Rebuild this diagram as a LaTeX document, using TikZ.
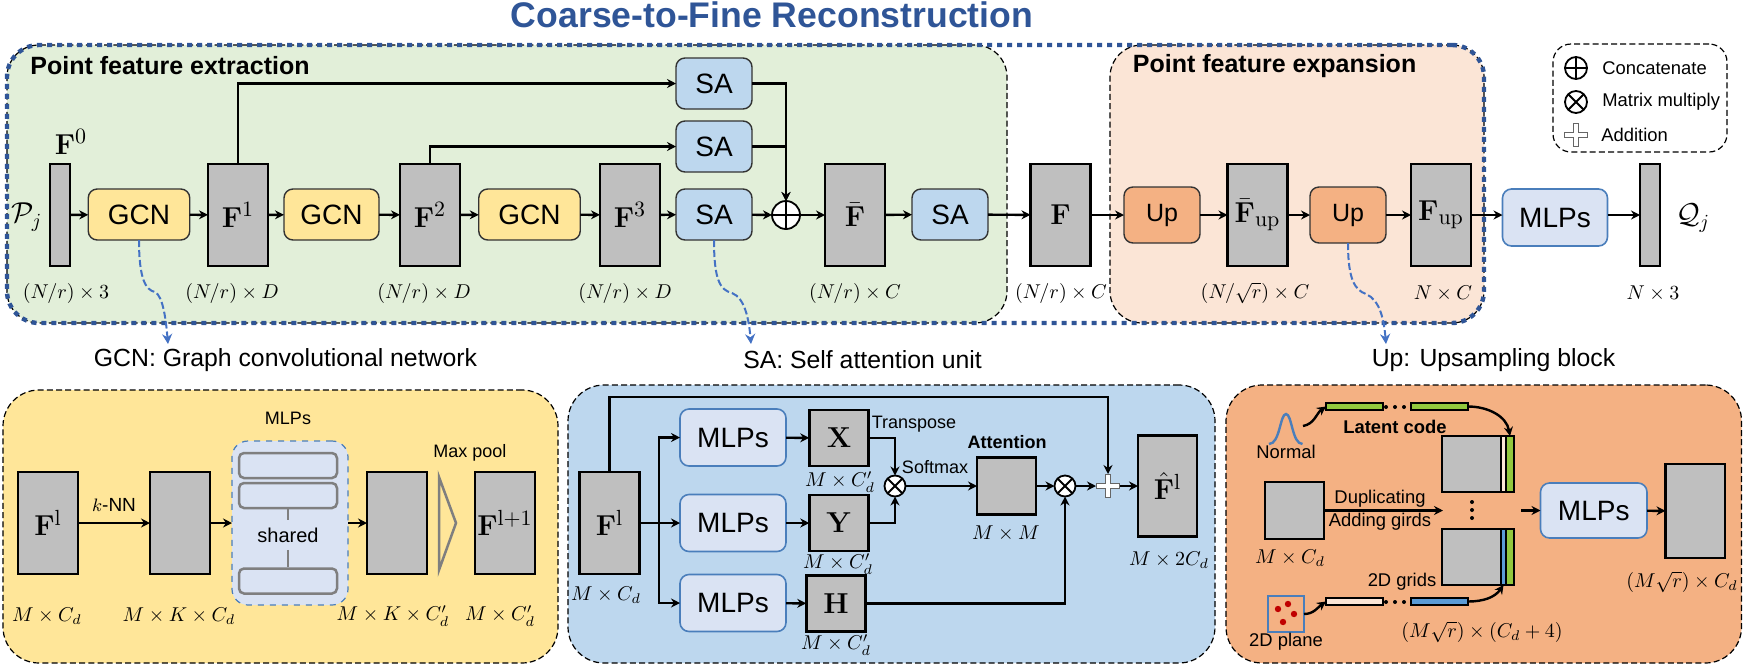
\documentclass[tikz,border=0pt]{standalone}
\usepackage[no-math]{fontspec}
\setmainfont{Liberation Sans}
\usetikzlibrary{backgrounds, arrows.meta}

\definecolor{boxgray}{HTML}{BFBFBF}
\definecolor{gcnyellow}{HTML}{FFE699}
\definecolor{sablue}{HTML}{BDD7EE}
\definecolor{upamber}{HTML}{F4B183}
\definecolor{mlpblue}{HTML}{DAE3F3}
\definecolor{edgeblue}{HTML}{4A7EBB}
\definecolor{navy}{HTML}{2F5597}
\definecolor{linkblue}{HTML}{4472C4}
\definecolor{greenpane}{HTML}{E2EFD9}
\definecolor{peachpane}{HTML}{FBE5D6}
\definecolor{codegreen}{HTML}{92C83E}
\definecolor{gridblue}{HTML}{5B9BD5}
\definecolor{planered}{HTML}{C00000}
\definecolor{mlpgray}{HTML}{7F7F7F}

\newcommand{\fsz}[1]{\fontsize{#1}{#1}\selectfont}

\begin{document}
\begin{tikzpicture}[x=0.5pt, y=-0.5pt, >={Stealth[length=4.5pt, width=4.5pt]},
  feat/.style={draw, line width=1.4pt, fill=boxgray, inner sep=0pt, outer sep=0pt, font=\fsz{15.5}},
  tall/.style={feat, minimum width=30pt, minimum height=51pt},
  thin/.style={draw, line width=0.8pt, fill=boxgray, minimum width=10pt, minimum height=51pt, inner sep=0pt, outer sep=0pt},
  block/.style={draw=black!80, line width=0.7pt, rounded corners=4.5pt, inner sep=0pt, outer sep=0pt, font=\fsz{14}},
  gcnblock/.style={block, fill=gcnyellow, minimum height=25.5pt},
  sablock/.style={block, fill=sablue, minimum width=38pt, minimum height=25.5pt},
  upblock/.style={block, fill=upamber, minimum width=38pt, minimum height=28pt, font=\fsz{12.5}},
  mlpblock/.style={block, draw=edgeblue, line width=0.8pt, fill=mlpblue},
  pane/.style={draw, line width=0.6pt, dash pattern=on 3pt off 1.6pt, rounded corners=16pt, inner sep=0pt},
  panel/.style={pane, minimum height=139pt},
  head/.style={font=\bfseries\fsz{12.5}, anchor=west, inner sep=0pt},
  caption/.style={font=\fsz{12.4}, inner sep=0pt},
  dims/.style={font=\fsz{9.6}, inner sep=0pt},
  pdims/.style={font=\fsz{10}, inner sep=0pt},
  small/.style={font=\fsz{9.2}, inner sep=0pt},
  link/.style={->, >={Stealth[length=5pt, width=5pt]}, draw=linkblue, line width=1pt, dash pattern=on 3.5pt off 1.5pt},
  flow/.style={->, line width=1.2pt},
  opcircle/.style={circle, draw, line width=0.9pt, fill=white, inner sep=0pt, outer sep=0pt},
  concat/.style={opcircle, path picture={\draw[line width=0.9pt] (path picture bounding box.north) -- (path picture bounding box.south) (path picture bounding box.west) -- (path picture bounding box.east);}},
  matmul/.style={opcircle, path picture={\draw[line width=0.9pt] (path picture bounding box.north west) -- (path picture bounding box.south east) (path picture bounding box.south west) -- (path picture bounding box.north east);}},
  addition/.style={inner sep=0pt, outer sep=0pt, minimum size=12pt, path picture={
    \draw[black!60, line width=3pt] (path picture bounding box.north) -- (path picture bounding box.south) (path picture bounding box.west) -- (path picture bounding box.east);
    \draw[white, line width=2.2pt, shorten >=0.5pt, shorten <=0.5pt] (path picture bounding box.north) -- (path picture bounding box.south);
    \draw[white, line width=2.2pt, shorten >=0.5pt, shorten <=0.5pt] (path picture bounding box.west) -- (path picture bounding box.east);}},
  mlpbar/.style={draw=mlpgray, line width=1.25pt, fill=mlpblue, rounded corners=2.5pt, minimum width=49pt, minimum height=12.5pt, inner sep=0pt},
  codebar/.style={draw, line width=0.9pt, minimum height=3.5pt, minimum width=28.5pt, inner sep=0pt, outer sep=0pt},
  strip/.style={draw, line width=0.9pt, minimum height=28pt, inner sep=0pt, outer sep=0pt}]
  \useasboundingbox (0,0) rectangle (1747,671);

  \node[font=\bfseries\fsz{17.8}, text=navy, inner sep=0pt] (title) at (772,15) {Coarse-to-Fine Reconstruction};

  % Main row
  \node[font=\fsz{14}, inner sep=0pt] (pset) at (27,217) {$\mathcal{P}_j$};
  \node[thin] (fzero) at (60,215) {};
  \node[font=\fsz{15.5}, inner sep=0pt] (fzerolab) at (71,142) {$\mathbf{F}^0$};
  \node[gcnblock, minimum width=50.75pt] (gcna) at (139,214.5) {GCN};
  \node[tall] (fone) at (238,215) {$\mathbf{F}^1$};
  \node[gcnblock, minimum width=47.5pt] (gcnb) at (331.5,214.5) {GCN};
  \node[tall] (ftwo) at (430,215) {$\mathbf{F}^2$};
  \node[gcnblock, minimum width=50.75pt] (gcnc) at (529.5,214.5) {GCN};
  \node[tall] (fthree) at (630,215) {$\mathbf{F}^3$};
  \node[sablock] (saa) at (714,83.5) {SA};
  \node[sablock] (sab) at (714,146.5) {SA};
  \node[sablock] (sac) at (714,214.5) {SA};
  \node[concat, minimum size=14pt] (conc) at (786,215) {};
  \node[tall] (fbar) at (855,215) {$\bar{\mathbf{F}}$};
  \node[sablock] (sad) at (950,214.5) {SA};
  \node[tall] (fmain) at (1060.5,215) {$\mathbf{F}$};
  \node[upblock] (upa) at (1162,215) {Up};
  \node[tall] (fbarup) at (1257.5,215) {$\bar{\mathbf{F}}_{\mathrm{up}}$};
  \node[upblock] (upb) at (1348,215) {Up};
  \node[tall] (fup) at (1441,215) {$\mathbf{F}_{\mathrm{up}}$};
  \node[mlpblock, minimum width=52.5pt, minimum height=28.5pt] (mlpmain) at (1555,217.5) {MLPs};
  \node[thin] (fout) at (1650,215) {};
  \node[font=\fsz{14.5}, inner sep=0pt] (qset) at (1693,218) {$\mathcal{Q}_j$};

  \foreach \a/\b in {fzero/gcna, gcna/fone, fone/gcnb, gcnb/ftwo, ftwo/gcnc, gcnc/fthree, fthree/sac, sac/conc, conc/fbar, fbar/sad, sad/fmain, fmain/upa, upa/fbarup, fbarup/upb, upb/fup}
    \draw[flow] (\a) -- (\b);
  \draw[flow] (fup) -- (fup -| mlpmain.west);
  \draw[flow] (fout -| mlpmain.east) -- (fout);
  \draw[flow] (fone.north) |- (saa.west);
  \draw[flow] (ftwo.north) |- (sab.west);
  \draw[flow] (saa.east) -| (conc.north);
  \draw[flow] (sab.east) -| (conc.north);

  \node[head] (headext) at (30,66) {Point feature extraction};
  \node[head] (headexp) at (1132.5,66) {Point feature expansion};

  \node[dims] (dzero) at (66,293) {$(N/r)\times 3$};
  \node[dims] (done) at (232,293) {$(N/r)\times D$};
  \node[dims] (dtwo) at (424,293) {$(N/r)\times D$};
  \node[dims] (dthree) at (625,293) {$(N/r)\times D$};
  \node[dims] (dbar) at (855,293) {$(N/r)\times C$};
  \node[dims] (dmain) at (1061,293) {$(N/r)\times C$};
  \node[dims] (dbarup) at (1255,293) {$(N/\sqrt{r})\times C$};
  \node[dims] (dup) at (1443,293) {$N\times C$};
  \node[dims] (dout) at (1653,293) {$N\times 3$};

  % Legend
  \node[pane, rounded corners=9pt, minimum width=87pt, minimum height=54pt] (legend) at (1640,98) {};
  \node[concat, minimum size=11pt] (legconc) at (1576,68) {};
  \node[matmul, minimum size=11pt] (legmul) at (1576,102) {};
  \node[addition] (legadd) at (1576,135) {};
  \node[small, anchor=west] (legconctext) at (1602,68) {Concatenate};
  \node[small, anchor=west] (legmultext) at (1602,102) {Matrix multiply};
  \node[small, anchor=west] (legaddtext) at (1601,135) {Addition};

  % Captions and dashed links
  \node[caption] (capgcn) at (285.5,360) {GCN: Graph convolutional network};
  \node[caption] (capsa) at (862.5,360) {SA: Self attention unit};
  \node[caption] (capup) at (1493.5,360) {Up: Upsampling block};
  \coordinate (gcnend) at (168,344);
  \coordinate (saend) at (751,344);
  \coordinate (upend) at (1386,344);
  \draw[link] (gcna.south) .. controls (139,280) and (146,290) .. (155,292) .. controls (163,296) and (166,320) .. (gcnend);
  \draw[link] (sac.south) .. controls (714,280) and (720,290) .. (732,293) .. controls (745,298) and (749,320) .. (saend);
  \draw[link] (upb.south) .. controls (1348,280) and (1355,290) .. (1366,294) .. controls (1380,300) and (1384,320) .. (upend);

  % GCN panel
  \node[tall] (gfa) at (48,523) {$\mathbf{F}^{\mathrm{l}}$};
  \node[tall] (gfb) at (180,523) {};
  \node[draw=edgeblue, dashed, line width=0.6pt, fill=mlpblue, rounded corners=8pt, minimum width=58pt, minimum height=82pt, inner sep=0pt, outer sep=0pt] (gshare) at (290,523) {};
  \node[mlpbar] (barone) at (288,465.5) {};
  \node[mlpbar] (bartwo) at (288,495.5) {};
  \node[mlpbar] (barthree) at (288,581) {};
  \node[font=\fsz{10}, inner sep=3.5pt] (sharedlab) at (288,535) {shared};
  \draw[mlpgray, line width=1pt] (bartwo) -- (sharedlab);
  \draw[mlpgray, line width=1pt] (sharedlab) -- (barthree);
  \node[font=\fsz{9}, inner sep=0pt] (gmlplab) at (288,418) {MLPs};
  \node[tall] (gfc) at (397,523) {};
  \draw[mlpgray, line width=1.25pt] (439,477) -- (456,523) -- (439,570) -- cycle;
  \node[font=\fsz{9}, inner sep=0pt] (poollab) at (470,453) {Max pool};
  \node[tall] (gfd) at (505,523) {$\mathbf{F}^{\mathrm{l+1}}$};
  \draw[flow] (gfa) -- node[above=5pt, font=\fsz{9.5}, inner sep=0pt] (knnlab) {$k$-NN} (gfb);
  \draw[flow] (gfb) -- (gshare);
  \draw[flow] (gshare) -- (gfc);
  \node[pdims] (gda) at (47,616) {$M\times C_d$};
  \node[pdims] (gdb) at (179,616) {$M\times K\times C_d$};
  \node[pdims] (gdc) at (393,616) {$M\times K\times C_d'$};
  \node[pdims] (gdd) at (500,616) {$M\times C_d'$};

  % SA panel
  \node[tall] (sfl) at (609.5,523) {$\mathbf{F}^{\mathrm{l}}$};
  \coordinate (sfork) at (659,523);
  \foreach \nm/\yy in {sma/437.5, smb/523, smc/603}
    \node[mlpblock, minimum width=53pt, minimum height=28.5pt] (\nm) at (733,\yy) {MLPs};
  \node[feat, minimum width=29.75pt, minimum height=28pt] (sx) at (839,438) {$\mathbf{X}$};
  \node[feat, minimum width=29.75pt, minimum height=28pt] (sy) at (839,523) {$\mathbf{Y}$};
  \node[feat, minimum width=29.75pt, minimum height=28pt] (sh) at (836,603.5) {$\mathbf{H}$};
  \node[matmul, minimum size=10.5pt] (mula) at (895,486) {};
  \node[feat, minimum width=29.5pt, minimum height=28.5pt] (satt) at (1006.5,486) {};
  \node[matmul, minimum size=10.5pt] (mulb) at (1065,486) {};
  \node[addition] (sadd) at (1108,486) {};
  \node[tall, minimum width=29.5pt, minimum height=50.5pt] (sfhat) at (1167.5,486) {$\hat{\mathbf{F}}^{\mathrm{l}}$};
  \draw[flow] (sfl.north) -- ++(0,-75) -| (sadd.north);
  \draw[flow] (sfl) -- (smb);
  \draw[flow] (sfork) |- (sma);
  \draw[flow] (sfork) |- (smc);
  \foreach \a/\b in {sma/sx, smb/sy, smc/sh, mula/satt, satt/mulb, mulb/sadd, sadd/sfhat}
    \draw[flow] (\a) -- (\b);
  \draw[flow] (sx.east) -| (mula.north);
  \draw[flow] (sy.east) -| (mula.south);
  \draw[flow] (sh.east) -| (mulb.south);
  \node[font=\fsz{9}, inner sep=0pt] (translab) at (914,424) {Transpose};
  \node[font=\fsz{9}, inner sep=0pt] (softlab) at (935,467) {Softmax};
  \node[font=\bfseries\fsz{9}, inner sep=0pt] (attlab) at (1007,442) {Attention};
  \node[pdims] (sda) at (606,595) {$M\times C_d$};
  \node[pdims] (sdb) at (840,482) {$M\times C_d'$};
  \node[pdims] (sdc) at (838,564) {$M\times C_d'$};
  \node[pdims] (sdd) at (836,645) {$M\times C_d'$};
  \node[pdims] (sde) at (1006,533) {$M\times M$};
  \node[pdims] (sdf) at (1169,560) {$M\times 2C_d$};

  % Up panel
  \draw[edgeblue, line width=1.2pt] (1269,444) .. controls (1280,444) and (1280,414) .. (1286,414) .. controls (1292,414) and (1292,444) .. (1302.5,444);
  \coordinate (normaltip) at (1303,426);
  \node[small] (normallab) at (1286,452) {Normal};
  \node[codebar, fill=codegreen] (lata) at (1354.5,406.5) {};
  \node[codebar, fill=codegreen] (latb) at (1439.5,406.5) {};
  \node[font=\bfseries\fsz{9.2}, inner sep=0pt] (latlab) at (1395,427) {Latent code};
  \node[strip, fill=boxgray, minimum width=36pt] (upta) at (1478,464) {};
  \node[strip, fill=peachpane, minimum width=2.5pt] (uptb) at (1503.5,464) {};
  \node[strip, fill=codegreen, minimum width=4pt] (uptc) at (1510,464) {};
  \node[strip, fill=boxgray, minimum width=36pt] (upba) at (1478,557) {};
  \node[strip, fill=gridblue, minimum width=2.5pt] (upbb) at (1503.5,557) {};
  \node[strip, fill=codegreen, minimum width=4pt] (upbc) at (1510,557) {};
  \foreach \dx in {1386,1395,1404} {
    \fill (\dx,407) circle (1pt);
    \fill (\dx,602) circle (1pt);
  }
  \foreach \dy in {502,510,518}
    \fill (1472,\dy) circle (1pt);
  \node[feat, minimum width=29.5pt, minimum height=28.5pt] (upin) at (1294.5,510.5) {};
  \coordinate (upmerge) at (1443,510.5);
  \coordinate (upnext) at (1521,510.5);
  \node[mlpblock, minimum width=53.25pt, minimum height=27.5pt] (upmlp) at (1593.75,510.5) {MLPs};
  \node[feat, minimum width=29.75pt, minimum height=47pt] (upout) at (1695.25,511) {};
  \node[draw=edgeblue, line width=1pt, minimum size=18pt, inner sep=0pt, outer sep=0pt] (plane) at (1286,614) {};
  \foreach \dx/\dy in {1278/609, 1288/604, 1294/614, 1283/622}
    \fill[planered] (\dx,\dy) circle (1.6pt);
  \node[small] (planelab) at (1286,642) {2D plane};
  \node[codebar, fill=peachpane] (gridw) at (1354.5,601.5) {};
  \node[codebar, fill=gridblue] (gridb) at (1439.5,601.5) {};
  \node[small] (gridlab) at (1402,582) {2D grids};
  \node[small] (duplab) at (1380,499) {Duplicating};
  \node[small] (addlab) at (1380,522) {Adding girds};
  \draw[flow] (normaltip) to[out=10, in=215] (lata.west);
  \draw[flow] (latb.east) to[out=0, in=100] (uptc.north);
  \draw[flow] (plane.east) to[out=0, in=215] (gridw.west);
  \draw[flow] (gridb.east) to[out=0, in=235] (upbb.south);
  \draw[flow] (upin) -- (upmerge);
  \draw[flow] (upnext) -- (upmlp);
  \draw[flow] (upmlp) -- (upout);
  \node[pdims] (uda) at (1290,558) {$M\times C_d$};
  \node[pdims] (udb) at (1482,632) {$(M\sqrt{r})\times(C_d+4)$};
  \node[pdims] (udc) at (1682,582) {$(M\sqrt{r})\times C_d$};

  % Panes stay behind the nodes
  \begin{scope}[on background layer]
    \node[panel, fill=greenpane, minimum width=500pt] (extract) at (507,184) {};
    \node[panel, fill=peachpane, minimum width=187pt] (expand) at (1297,184) {};
    \node[panel, draw=navy, line width=2.2pt, dash pattern=on 2.5pt off 2.5pt, minimum width=738.5pt] (coarse) at (745.5,184) {};
    \node[pane, fill=gcnyellow, minimum width=277.5pt, minimum height=136.5pt, rounded corners=18pt] (panelgcn) at (280.5,526.5) {};
    \node[panel, fill=sablue, minimum width=323.5pt, rounded corners=18pt] (panelsa) at (891.5,524) {};
    \node[panel, fill=upamber, minimum width=257.75pt, rounded corners=18pt] (panelup) at (1483.75,524) {};
  \end{scope}
\end{tikzpicture}
\end{document}
